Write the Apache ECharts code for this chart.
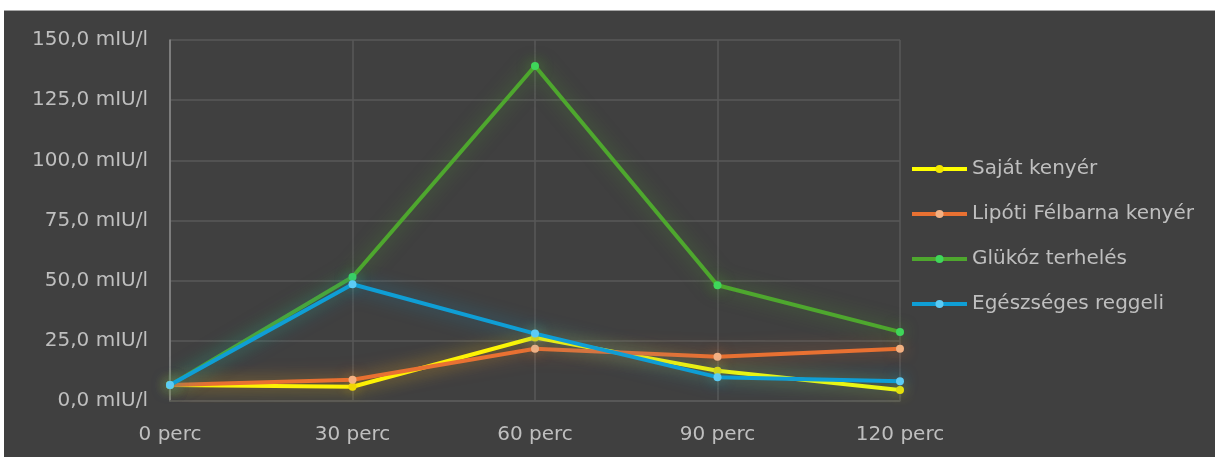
<!DOCTYPE html>
<html>
<head>
<meta charset="utf-8">
<script src="https://cdn.jsdelivr.net/npm/echarts@6/dist/echarts.min.js"></script>
<style>
  html, body { margin: 0; padding: 0; background: #ffffff; }
  #frame { position: absolute; left: 4px; top: 10px; width: 1211px; height: 447px; background: #404040; border-top: 1px solid #a6a6a6; box-sizing: border-box; }
  #chart { width: 100%; height: 100%; }
</style>
</head>
<body>
<div id="frame"><div id="chart"></div></div>
<script>
// Minutes after the test meal
const categories = ['0 perc', '30 perc', '60 perc', '90 perc', '120 perc'];

// Insulin levels (mIU/l)
const sajatKenyer = [6.6, 5.9, 26.4, 12.6, 4.6];
const lipotiFelbarna = [6.6, 8.8, 21.7, 18.4, 21.7];
const glukozTerheles = [6.6, 51.5, 139.2, 48.1, 28.7];
const egeszsegesReggeli = [6.6, 48.5, 28.0, 9.9, 8.2];

const seriesNames = ['Saját kenyér', 'Lipóti Félbarna kenyér', 'Glükóz terhelés', 'Egészséges reggeli'];
const lineColors = ['#ffff00', '#e97132', '#4ea72e', '#0f9ed5'];
const pointColors = ['#f2e600', '#f4b183', '#3fd65a', '#5ccbf5'];
const glowColors = ['rgba(255,255,0,0.45)', 'rgba(233,113,50,0.55)', 'rgba(78,167,46,0.6)', 'rgba(15,158,213,0.6)'];
const seriesData = [sajatKenyer, lipotiFelbarna, glukozTerheles, egeszsegesReggeli];

const FONT = '"DejaVu Sans", sans-serif';
const FS = 20;
const chart = echarts.init(document.getElementById('chart'), null, { renderer: 'canvas' });

chart.setOption({
  backgroundColor: 'transparent',
  animation: false,
  textStyle: { fontFamily: FONT },
  grid: { left: 166, right: 315, top: 29, bottom: 56 },
  legend: {
    orient: 'vertical',
    left: 901,
    top: 143,
    itemWidth: 55,
    itemHeight: 10,
    itemGap: 25,
    lineStyle: { width: 4 },
    textStyle: { color: '#bfbfbf', fontSize: FS, fontFamily: FONT, lineHeight: 20 },
    data: seriesNames
  },
  xAxis: {
    type: 'category',
    data: categories,
    boundaryGap: false,
    axisLine: { lineStyle: { color: '#595959', width: 1.5 } },
    axisTick: { show: false },
    splitLine: { show: true, lineStyle: { color: '#595959', width: 1.5 } },
    axisLabel: { color: '#bfbfbf', fontSize: FS, margin: 24, fontFamily: FONT }
  },
  yAxis: {
    type: 'value',
    min: 0,
    max: 150,
    interval: 25,
    axisLine: { show: true, lineStyle: { color: '#8c8c8c', width: 1.5 } },
    axisTick: { show: false },
    splitLine: { lineStyle: { color: '#595959', width: 1.5 } },
    axisLabel: {
      color: '#bfbfbf', fontSize: FS, margin: 22, fontFamily: FONT,
      formatter: v => v.toFixed(1).replace('.', ',') + ' mIU/l'
    }
  },
  series: seriesNames.map((name, i) => ({
    name: name,
    type: 'line',
    data: seriesData[i],
    symbol: 'circle',
    symbolSize: 8,
    showSymbol: true,
    lineStyle: { color: lineColors[i], width: 4, shadowBlur: 18, shadowColor: glowColors[i] },
    itemStyle: { color: pointColors[i], borderWidth: 0, shadowBlur: 14, shadowColor: glowColors[i] },
    emphasis: { disabled: true },
    z: 2 + i
  }))
});
</script>
</body>
</html>
